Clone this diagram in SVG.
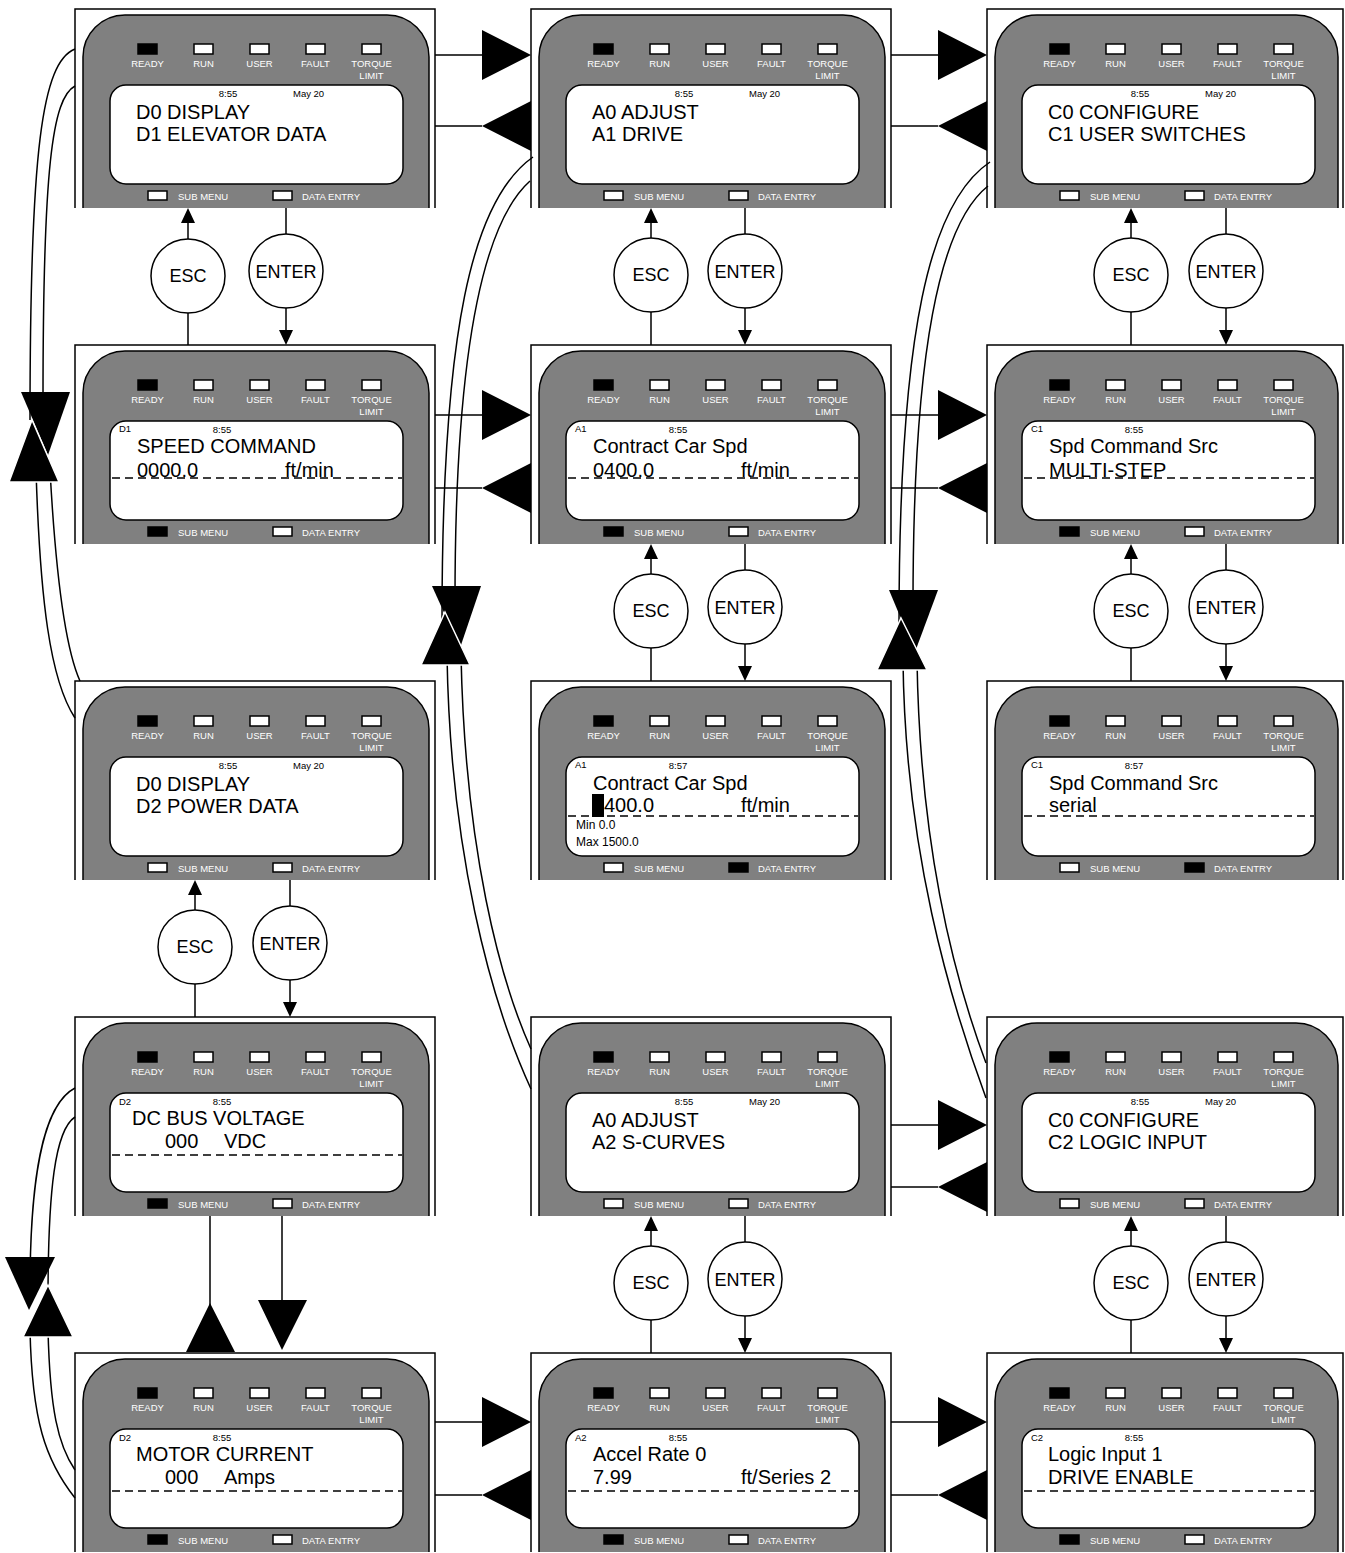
<svg xmlns="http://www.w3.org/2000/svg" xmlns:xlink="http://www.w3.org/1999/xlink" width="1345" height="1553" viewBox="0 0 1345 1553">
<style>
.fr{fill:none;stroke:#000;stroke-width:1.5}
.body{fill:#808080;stroke:#000;stroke-width:1.5}
.led{fill:#fff;stroke:#000;stroke-width:1.5}
.on{fill:#000;stroke:#000;stroke-width:1.5}
.lcd{fill:#fff;stroke:#000;stroke-width:1.5}
.lbl{font-family:"Liberation Sans",Arial,sans-serif;font-size:9.5px;fill:#fff}
.c{text-anchor:middle}
.sm{font-family:"Liberation Sans",Arial,sans-serif;font-size:9.5px;fill:#000}
.big{font-family:"Liberation Sans",Arial,sans-serif;font-size:20px;fill:#000}
.mid{font-family:"Liberation Sans",Arial,sans-serif;font-size:12px;fill:#000}
.key{font-family:"Liberation Sans",Arial,sans-serif;font-size:18px;fill:#000;text-anchor:middle}
.dash{stroke:#000;stroke-width:1.5;stroke-dasharray:8,5;fill:none}
.ln{stroke:#000;stroke-width:1.5;fill:none}
.circ{fill:#fff;stroke:#000;stroke-width:1.5}
.ah{fill:#000}
.ahw{fill:#000;stroke:#fff;stroke-width:1.5}
</style>
<defs>
<g id="inner">
<rect class="on" x="63" y="35" width="19" height="10"/>
<rect class="led" x="119" y="35" width="19" height="10"/>
<rect class="led" x="175" y="35" width="19" height="10"/>
<rect class="led" x="231" y="35" width="19" height="10"/>
<rect class="led" x="287" y="35" width="19" height="10"/>
<text class="lbl c" x="72.5" y="58">READY</text>
<text class="lbl c" x="128.5" y="58">RUN</text>
<text class="lbl c" x="184.5" y="58">USER</text>
<text class="lbl c" x="240.5" y="58">FAULT</text>
<text class="lbl c" x="296.5" y="58">TORQUE</text>
<text class="lbl c" x="296.5" y="70">LIMIT</text>
<rect class="lcd" x="35" y="76" width="293" height="99" rx="16"/>
<text class="lbl" x="103" y="191">SUB MENU</text>
<text class="lbl" x="227" y="191">DATA ENTRY</text>
</g>
<g id="chrome">
<path class="fr" d="M0,199V0H360V199"/>
<path class="body" d="M8,199V48A42,42 0 0 1 50,6H312A42,42 0 0 1 354,48V199"/>
<use xlink:href="#inner"/>
</g>
<g id="chrome3">
<path class="fr" d="M0,199V0H356V199"/>
<path class="body" d="M8,199V48A42,42 0 0 1 50,6H309A42,42 0 0 1 351,48V199"/>
<use xlink:href="#inner"/>
</g>
</defs>
<rect width="1345" height="1553" fill="#fff"/>

<g id="connectors">
<path class="ln" d="M435,55H482M435,126H482M891,55H938M891,126H938"/>
<path class="ah" d="M482,30L482,80L531,55ZM482,126L531,101L531,151ZM938,30L938,80L987,55ZM938,126L987,101L987,151Z"/>
<path class="ln" d="M435,415H482M435,488H482M891,415H938M891,488H938"/>
<path class="ah" d="M482,390L482,440L531,415ZM482,488L531,463L531,513ZM938,390L938,440L987,415ZM938,488L987,463L987,513Z"/>
<path class="ln" d="M891,1125H938M891,1187H938"/>
<path class="ah" d="M938,1100L938,1150L987,1125ZM938,1187L987,1162L987,1212Z"/>
<path class="ln" d="M435,1422H482M435,1495H482M891,1422H938M891,1495H938"/>
<path class="ah" d="M482,1397L482,1447L531,1422ZM482,1495L531,1470L531,1520ZM938,1397L938,1447L987,1422ZM938,1495L987,1470L987,1520Z"/>

<path class="ln" d="M75,49C42,62 30,150 30,420M75,86C52,98 43,170 43,400"/>
<path class="ln" d="M36,470C40,600 50,680 75,718M50,470C56,580 66,650 80,681"/>
<path class="ah" d="M21,392L70,392L48,455Z"/>
<path class="ahw" d="M32,420L59,482L9,482Z"/>

<path class="ln" d="M533,157C472,200 442,330 442,620M530,181C484,222 455,350 455,600"/>
<path class="ln" d="M447,655C450,850 490,1000 531,1089M461,655C465,850 500,980 531,1049"/>
<path class="ah" d="M432,586L481,586L460,648Z"/>
<path class="ahw" d="M445,612L470,665L421,665Z"/>

<path class="ln" d="M990,162C930,202 899,330 899,625M988,186C940,224 913,350 913,605"/>
<path class="ln" d="M903,660C905,850 950,1000 986,1098M917,660C920,850 955,980 986,1063"/>
<path class="ah" d="M889,590L938,590L915,652Z"/>
<path class="ahw" d="M901,618L927,670L877,670Z"/>

<path class="ln" d="M75,1088C42,1105 30,1180 30,1290M75,1117C55,1130 48,1190 48,1300"/>
<path class="ln" d="M30,1330C32,1420 45,1460 75,1498M48,1330C50,1410 58,1445 75,1470"/>
<path class="ah" d="M5,1257L55,1257L29,1310Z"/>
<path class="ahw" d="M48,1285L73,1337L23,1337Z"/>

<path class="ln" d="M210,1216V1310M282,1216V1300"/>
<path class="ah" d="M186,1352L235,1352L210,1303ZM258,1300L307,1300L282,1350Z"/>

<path class="ln" d="M188,239V222M188,313V345M286,208V234M286,308V331"/>
<path class="ah" d="M181,223L195,223L188,208ZM279,330L293,330L286,345Z"/>
<path class="ln" d="M651,238V222M651,312V345M745,208V234M745,308V331"/>
<path class="ah" d="M644,223L658,223L651,208ZM738,330L752,330L745,345Z"/>
<path class="ln" d="M1131,238V222M1131,312V345M1226,208V234M1226,308V331"/>
<path class="ah" d="M1124,223L1138,223L1131,208ZM1219,330L1233,330L1226,345Z"/>
<path class="ln" d="M651,574V558M651,648V681M745,544V570M745,644V667"/>
<path class="ah" d="M644,559L658,559L651,544ZM738,666L752,666L745,681Z"/>
<path class="ln" d="M1131,574V558M1131,648V681M1226,544V570M1226,644V667"/>
<path class="ah" d="M1124,559L1138,559L1131,544ZM1219,666L1233,666L1226,681Z"/>
<path class="ln" d="M195,910V894M195,984V1017M290,880V906M290,980V1003"/>
<path class="ah" d="M188,895L202,895L195,880ZM283,1002L297,1002L290,1017Z"/>
<path class="ln" d="M651,1246V1230M651,1320V1353M745,1216V1242M745,1316V1339"/>
<path class="ah" d="M644,1231L658,1231L651,1216ZM738,1338L752,1338L745,1353Z"/>
<path class="ln" d="M1131,1246V1230M1131,1320V1353M1226,1216V1242M1226,1316V1339"/>
<path class="ah" d="M1124,1231L1138,1231L1131,1216ZM1219,1338L1233,1338L1226,1353Z"/>
</g>

<g id="keys">
<g id="esc1"><circle class="circ" cx="188" cy="276" r="37"/><text class="key" x="188" y="282">ESC</text></g>
<g id="enter1"><circle class="circ" cx="286" cy="271" r="37"/><text class="key" x="286" y="278">ENTER</text></g>
<g id="esc2"><circle class="circ" cx="651" cy="275" r="37"/><text class="key" x="651" y="281">ESC</text></g>
<g id="enter2"><circle class="circ" cx="745" cy="271" r="37"/><text class="key" x="745" y="278">ENTER</text></g>
<g id="esc3"><circle class="circ" cx="1131" cy="275" r="37"/><text class="key" x="1131" y="281">ESC</text></g>
<g id="enter3"><circle class="circ" cx="1226" cy="271" r="37"/><text class="key" x="1226" y="278">ENTER</text></g>
<g id="esc4"><circle class="circ" cx="651" cy="611" r="37"/><text class="key" x="651" y="617">ESC</text></g>
<g id="enter4"><circle class="circ" cx="745" cy="607" r="37"/><text class="key" x="745" y="614">ENTER</text></g>
<g id="esc5"><circle class="circ" cx="1131" cy="611" r="37"/><text class="key" x="1131" y="617">ESC</text></g>
<g id="enter5"><circle class="circ" cx="1226" cy="607" r="37"/><text class="key" x="1226" y="614">ENTER</text></g>
<g id="esc6"><circle class="circ" cx="195" cy="947" r="37"/><text class="key" x="195" y="953">ESC</text></g>
<g id="enter6"><circle class="circ" cx="290" cy="943" r="37"/><text class="key" x="290" y="950">ENTER</text></g>
<g id="esc7"><circle class="circ" cx="651" cy="1283" r="37"/><text class="key" x="651" y="1289">ESC</text></g>
<g id="enter7"><circle class="circ" cx="745" cy="1279" r="37"/><text class="key" x="745" y="1286">ENTER</text></g>
<g id="esc8"><circle class="circ" cx="1131" cy="1283" r="37"/><text class="key" x="1131" y="1289">ESC</text></g>
<g id="enter8"><circle class="circ" cx="1226" cy="1279" r="37"/><text class="key" x="1226" y="1286">ENTER</text></g>
</g>

<g id="p-d0d1" transform="translate(75,9)">
<use xlink:href="#chrome"/>
<rect class="led" x="73" y="182" width="19" height="9"/><rect class="led" x="198" y="182" width="19" height="9"/>
<text class="sm c" x="153" y="88">8:55</text><text class="sm" x="218" y="88">May 20</text>
<text class="big" x="61" y="110">D0 DISPLAY</text><text class="big" x="61" y="132">D1 ELEVATOR DATA</text>
</g>
<g id="p-a0a1" transform="translate(531,9)">
<use xlink:href="#chrome"/>
<rect class="led" x="73" y="182" width="19" height="9"/><rect class="led" x="198" y="182" width="19" height="9"/>
<text class="sm c" x="153" y="88">8:55</text><text class="sm" x="218" y="88">May 20</text>
<text class="big" x="61" y="110">A0 ADJUST</text><text class="big" x="61" y="132">A1 DRIVE</text>
</g>
<g id="p-c0c1" transform="translate(987,9)">
<use xlink:href="#chrome3"/>
<rect class="led" x="73" y="182" width="19" height="9"/><rect class="led" x="198" y="182" width="19" height="9"/>
<text class="sm c" x="153" y="88">8:55</text><text class="sm" x="218" y="88">May 20</text>
<text class="big" x="61" y="110">C0 CONFIGURE</text><text class="big" x="61" y="132">C1 USER SWITCHES</text>
</g>

<g id="p-d1" transform="translate(75,345)">
<use xlink:href="#chrome"/>
<rect class="on" x="73" y="182" width="19" height="9"/><rect class="led" x="198" y="182" width="19" height="9"/>
<text class="sm" x="44" y="87">D1</text><text class="sm c" x="147" y="88">8:55</text>
<text class="big" x="62" y="108">SPEED COMMAND</text>
<text class="big" x="62" y="132">0000.0</text><text class="big" x="210" y="132">ft/min</text>
<path class="dash" d="M37,133H327"/>
</g>
<g id="p-a1" transform="translate(531,345)">
<use xlink:href="#chrome"/>
<rect class="on" x="73" y="182" width="19" height="9"/><rect class="led" x="198" y="182" width="19" height="9"/>
<text class="sm" x="44" y="87">A1</text><text class="sm c" x="147" y="88">8:55</text>
<text class="big" x="62" y="108">Contract Car Spd</text>
<text class="big" x="62" y="132">0400.0</text><text class="big" x="210" y="132">ft/min</text>
<path class="dash" d="M37,133H327"/>
</g>
<g id="p-c1" transform="translate(987,345)">
<use xlink:href="#chrome3"/>
<rect class="on" x="73" y="182" width="19" height="9"/><rect class="led" x="198" y="182" width="19" height="9"/>
<text class="sm" x="44" y="87">C1</text><text class="sm c" x="147" y="88">8:55</text>
<text class="big" x="62" y="108">Spd Command Src</text>
<text class="big" x="62" y="132">MULTI-STEP</text>
<path class="dash" d="M37,133H327"/>
</g>

<g id="p-d0d2" transform="translate(75,681)">
<use xlink:href="#chrome"/>
<rect class="led" x="73" y="182" width="19" height="9"/><rect class="led" x="198" y="182" width="19" height="9"/>
<text class="sm c" x="153" y="88">8:55</text><text class="sm" x="218" y="88">May 20</text>
<text class="big" x="61" y="110">D0 DISPLAY</text><text class="big" x="61" y="132">D2 POWER DATA</text>
</g>
<g id="p-a1-edit" transform="translate(531,681)">
<use xlink:href="#chrome"/>
<rect class="led" x="73" y="182" width="19" height="9"/><rect class="on" x="198" y="182" width="19" height="9"/>
<text class="sm" x="44" y="87">A1</text><text class="sm c" x="147" y="88">8:57</text>
<text class="big" x="62" y="109">Contract Car Spd</text>
<rect x="61" y="113" width="12" height="23" fill="#000"/>
<text class="big" x="73" y="131">400.0</text><text class="big" x="210" y="131">ft/min</text>
<path class="dash" d="M37,135H327"/>
<text class="mid" x="45" y="148">Min 0.0</text>
<text class="mid" x="45" y="165">Max 1500.0</text>
</g>
<g id="p-c1-edit" transform="translate(987,681)">
<use xlink:href="#chrome3"/>
<rect class="led" x="73" y="182" width="19" height="9"/><rect class="on" x="198" y="182" width="19" height="9"/>
<text class="sm" x="44" y="87">C1</text><text class="sm c" x="147" y="88">8:57</text>
<text class="big" x="62" y="109">Spd Command Src</text>
<text class="big" x="62" y="131">serial</text>
<path class="dash" d="M37,135H327"/>
</g>

<g id="p-d2-dcbus" transform="translate(75,1017)">
<use xlink:href="#chrome"/>
<rect class="on" x="73" y="182" width="19" height="9"/><rect class="led" x="198" y="182" width="19" height="9"/>
<text class="sm" x="44" y="88">D2</text><text class="sm c" x="147" y="88">8:55</text>
<text class="big" x="57" y="108">DC BUS VOLTAGE</text>
<text class="big" x="90" y="131">000</text><text class="big" x="149" y="131">VDC</text>
<path class="dash" d="M37,138H327"/>
</g>
<g id="p-a0a2" transform="translate(531,1017)">
<use xlink:href="#chrome"/>
<rect class="led" x="73" y="182" width="19" height="9"/><rect class="led" x="198" y="182" width="19" height="9"/>
<text class="sm c" x="153" y="88">8:55</text><text class="sm" x="218" y="88">May 20</text>
<text class="big" x="61" y="110">A0 ADJUST</text><text class="big" x="61" y="132">A2 S-CURVES</text>
</g>
<g id="p-c0c2" transform="translate(987,1017)">
<use xlink:href="#chrome3"/>
<rect class="led" x="73" y="182" width="19" height="9"/><rect class="led" x="198" y="182" width="19" height="9"/>
<text class="sm c" x="153" y="88">8:55</text><text class="sm" x="218" y="88">May 20</text>
<text class="big" x="61" y="110">C0 CONFIGURE</text><text class="big" x="61" y="132">C2 LOGIC INPUT</text>
</g>

<g id="p-d2-motor" transform="translate(75,1353)">
<use xlink:href="#chrome"/>
<rect class="on" x="73" y="182" width="19" height="9"/><rect class="led" x="198" y="182" width="19" height="9"/>
<text class="sm" x="44" y="88">D2</text><text class="sm c" x="147" y="88">8:55</text>
<text class="big" x="61" y="108">MOTOR CURRENT</text>
<text class="big" x="90" y="131">000</text><text class="big" x="149" y="131">Amps</text>
<path class="dash" d="M37,138H327"/>
</g>
<g id="p-a2" transform="translate(531,1353)">
<use xlink:href="#chrome"/>
<rect class="on" x="73" y="182" width="19" height="9"/><rect class="led" x="198" y="182" width="19" height="9"/>
<text class="sm" x="44" y="88">A2</text><text class="sm c" x="147" y="88">8:55</text>
<text class="big" x="62" y="108">Accel Rate 0</text>
<text class="big" x="62" y="131">7.99</text><text class="big" x="210" y="131">ft/Series 2</text>
<path class="dash" d="M37,138H327"/>
</g>
<g id="p-c2" transform="translate(987,1353)">
<use xlink:href="#chrome3"/>
<rect class="on" x="73" y="182" width="19" height="9"/><rect class="led" x="198" y="182" width="19" height="9"/>
<text class="sm" x="44" y="88">C2</text><text class="sm c" x="147" y="88">8:55</text>
<text class="big" x="61" y="108">Logic Input 1</text>
<text class="big" x="61" y="131">DRIVE ENABLE</text>
<path class="dash" d="M37,138H327"/>
</g>
</svg>
